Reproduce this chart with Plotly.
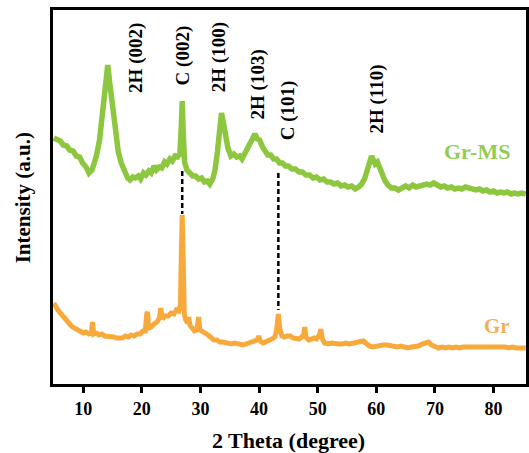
import plotly.graph_objects as go

# ---- data (2-theta in degrees, intensity in arbitrary units) ----
grms_theta = [5.0, 5.6, 6.1, 6.6, 7.2, 7.7, 8.3, 8.8, 9.4, 9.9, 10.5, 11.0, 11.5, 11.9, 12.3, 12.8, 13.3, 13.8, 14.2, 14.5,
              15.0, 15.5, 16.0, 16.5, 17.1, 17.6, 18.0, 18.5, 18.9, 19.4, 19.8, 20.3, 20.7, 21.2, 21.6, 22.1, 22.5, 23.0,
              23.4, 23.9, 24.3, 24.8, 25.2, 25.7, 26.1, 26.5, 26.75, 26.9, 27.05, 27.3, 27.7, 28.2, 28.7, 29.2, 29.7,
              30.2, 30.7, 31.2, 31.6, 32.1, 32.5, 32.9, 33.3, 33.6, 33.9, 34.3, 34.7, 35.2, 35.7, 36.2, 36.7, 37.1, 37.6,
              38.0, 38.5, 38.9, 39.3, 39.7, 40.1, 40.6, 41.0, 41.5, 42.0, 42.5, 43.0, 43.5, 44.0, 44.5, 45.0, 45.6, 46.2,
              46.8, 47.4, 48.0, 48.6, 49.2, 49.8, 50.4, 51.0, 51.6, 52.2, 52.8, 53.4, 54.0, 54.6, 55.2, 55.8, 56.4, 57.0,
              57.5, 58.0, 58.5, 58.9, 59.2, 59.5, 59.8, 60.2, 60.6, 61.0, 61.5, 62.0, 62.6, 63.2, 63.8, 64.4, 65.0, 65.6,
              66.2, 66.8, 67.4, 68.0, 68.6, 69.2, 69.8, 70.4, 71.0, 71.6, 72.2, 72.8, 73.4, 74.0, 74.6, 75.2, 75.8, 76.4,
              77.0, 77.6, 78.2, 78.8, 79.4, 80.0, 80.6, 81.2, 81.8, 82.4, 83.0, 83.6, 84.2, 84.8, 85.5]
grms_int = [246, 244, 243, 239, 238, 234, 233, 228, 227, 221, 217, 211, 214, 221, 229, 244, 268, 298, 319, 303,
            277, 250, 232, 221, 212, 206, 204, 207, 206, 208, 205, 211, 209, 213, 211, 218, 214, 217,
            216, 222, 220, 225, 223, 228, 227, 230, 258, 283, 255, 222, 214, 210, 208, 208, 205,
            206, 202, 203, 200, 205, 214, 232, 258, 271, 262, 248, 236, 228, 230, 227, 228, 225, 231,
            236, 243, 247, 250, 245, 244, 237, 233, 229, 229, 225, 225, 221, 221, 218, 218, 215, 215,
            212, 212, 209, 209, 206, 207, 204, 205, 202, 202, 200, 201, 198, 199, 197, 198, 195, 197,
            200, 205, 213, 222, 228, 224, 220, 222, 215, 210, 203, 199, 196, 196, 194, 196, 198, 196,
            199, 197, 198, 198, 200, 199, 201, 199, 197, 198, 196, 197, 195, 196, 195, 197, 196, 196,
            194, 195, 193, 194, 192, 193, 191, 192, 191, 192, 190, 191, 190, 191, 190]

gr_theta = [5.0, 5.3, 5.7, 6.1, 6.5, 7.0, 7.5, 8.0, 8.5, 9.0, 9.5, 10.0, 10.5, 11.0, 11.4, 11.6, 11.8, 12.2, 12.7, 13.2,
            13.7, 14.2, 14.7, 15.2, 15.7, 16.2, 16.7, 17.2, 17.7, 18.2, 18.7, 19.2, 19.7, 20.2, 20.6, 20.85, 21.0, 21.15,
            21.6, 22.1, 22.6, 23.0, 23.25, 23.5, 24.0, 24.5, 25.0, 25.5, 25.9, 26.3, 26.6, 26.75, 26.9, 27.05, 27.25,
            27.5, 27.8, 28.0, 28.2, 28.6, 29.0, 29.4, 29.7, 29.9, 30.3, 30.8, 31.3, 31.8, 32.3, 32.8, 33.3, 33.8, 34.3,
            34.8, 35.3, 35.8, 36.3, 36.8, 37.3, 37.8, 38.3, 38.8, 39.3, 39.7, 39.95, 40.2, 40.7, 41.2, 41.7, 42.2, 42.7,
            43.0, 43.3, 43.55, 43.9, 44.3, 44.8, 45.3, 45.8, 46.3, 46.8, 47.3, 47.6, 47.8, 48.0, 48.5, 49.0, 49.4, 49.8,
            50.3, 50.55, 50.8, 51.2, 51.8, 52.4, 53.0, 53.6, 54.2, 54.8, 55.4, 56.0, 56.6, 57.2, 57.8, 58.2, 58.8, 59.4,
            60.0, 60.6, 61.2, 61.8, 62.4, 63.0, 63.6, 64.2, 64.8, 65.4, 66.0, 66.6, 67.2, 67.8, 68.4, 68.9, 69.4, 70.0,
            70.6, 71.2, 71.8, 72.4, 73.0, 73.6, 74.2, 74.8, 75.4, 76.0, 76.6, 77.2, 77.8, 78.4, 79.0, 79.6, 80.2, 80.8,
            81.4, 82.0, 82.6, 83.2, 83.8, 84.4, 85.0, 85.5]
gr_int = [81, 77, 74, 71, 68, 65, 61, 58, 56, 54, 52, 51, 52, 50, 51, 62, 50, 51, 49, 50,
          48, 48, 47, 47, 46, 46, 46, 48, 47, 49, 48, 50, 50, 53, 53, 70, 72, 56,
          57, 60, 62, 66, 76, 65, 68, 68, 71, 70, 74, 73, 79, 130, 169, 128, 70,
          64, 61, 67, 59, 56, 53, 54, 67, 54, 52, 51, 49, 46, 44, 44, 42, 42, 41,
          41, 40, 41, 40, 40, 39, 40, 41, 42, 42, 44, 48, 43, 41, 42, 43, 45, 47,
          54, 70, 55, 48, 47, 48, 48, 46, 46, 45, 47, 49, 57, 47, 44, 45, 46, 45,
          49, 55, 45, 41, 40, 41, 40, 40, 40, 41, 40, 41, 41, 42, 43, 41, 38, 37,
          38, 38, 39, 39, 38, 38, 37, 38, 37, 36, 37, 37, 38, 40, 41, 42, 39, 38,
          36, 37, 36, 37, 36, 37, 36, 37, 37, 37, 38, 38, 38, 37, 37, 37, 37, 37,
          37, 37, 36, 37, 36, 36, 36, 36]

# reference (dashed) lines: theta, top, bottom
ref_theta = [26.9, 43.3]
ref_top = [213, 211]
ref_bottom = [170, 74]

# peak labels
peak_labels = ["2H (002)", "C (002)", "2H (100)", "2H (103)", "C (101)", "2H (110)"]
peak_theta = [19.0, 27.1, 33.2, 39.9, 45.0, 60.2]
peak_label_int = [326, 329, 327, 300, 274, 285]

x_ticks = [10, 20, 30, 40, 50, 60, 70, 80]

GREEN = "#8DC63F"
ORANGE = "#F7A93B"
SERIF = "Liberation Serif"

fig = go.Figure()
fig.add_trace(go.Scatter(x=grms_theta, y=grms_int, mode="lines",
                         line=dict(color=GREEN, width=5.5), showlegend=False))
fig.add_trace(go.Scatter(x=gr_theta, y=gr_int, mode="lines",
                         line=dict(color=ORANGE, width=5), showlegend=False))
for t, a, b in zip(ref_theta, ref_top, ref_bottom):
    fig.add_trace(go.Scatter(x=[t, t], y=[a, b], mode="lines",
                             line=dict(color="black", width=2.5, dash="5px,3px"),
                             showlegend=False))

annotations = []
for lab, t, v in zip(peak_labels, peak_theta, peak_label_int):
    annotations.append(dict(x=t, y=v, xref="x", yref="y", text=lab, textangle=-90,
                            showarrow=False, xanchor="center", yanchor="middle",
                            font=dict(family=SERIF, size=19, color="black", weight="bold")))
annotations.append(dict(x=77.2, y=233, xref="x", yref="y", text="Gr-MS", showarrow=False,
                        font=dict(family=SERIF, size=22, color="#92CC55", weight="bold")))
annotations.append(dict(x=80.6, y=58, xref="x", yref="y", text="Gr", showarrow=False,
                        font=dict(family=SERIF, size=21, color="#F2B056", weight="bold")))
annotations.append(dict(x=0.497, y=-0.15, xref="paper", yref="paper", text="2 Theta (degree)",
                        showarrow=False, xanchor="center", yanchor="middle",
                        font=dict(family=SERIF, size=22, color="black", weight="bold")))
annotations.append(dict(x=-0.063, y=0.497, xref="paper", yref="paper", text="Intensity (a.u.)",
                        textangle=-90, showarrow=False, xanchor="center", yanchor="middle",
                        font=dict(family=SERIF, size=21, color="black", weight="bold")))

fig.update_layout(
    width=529, height=453,
    margin=dict(l=53, r=0, t=10, b=69),
    paper_bgcolor="white", plot_bgcolor="white",
    annotations=annotations,
    xaxis=dict(range=[4.86, 85.54], tickvals=x_ticks, ticks="outside", ticklen=6, tickwidth=2.5,
               tickcolor="black", showline=True, linecolor="black", linewidth=3, mirror=True,
               showgrid=False, zeroline=False,
               tickfont=dict(family=SERIF, size=18, color="black", weight="bold")),
    yaxis=dict(range=[0, 374], showticklabels=False, ticks="", showline=True, linecolor="black",
               linewidth=3, mirror=True, showgrid=False, zeroline=False),
)

fig.write_html("out.html")
